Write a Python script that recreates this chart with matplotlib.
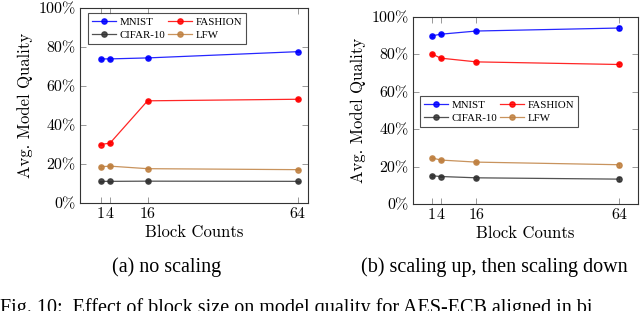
import matplotlib
matplotlib.use("Agg")
import matplotlib.pyplot as plt
from matplotlib.lines import Line2D
from matplotlib.ticker import FuncFormatter

# block counts on the x axis
blocks = [1, 4, 16, 64]
block_labels = ["1", "4", "16", "64"]

# (a) no scaling
a_mnist = [73.9, 73.9, 74.4, 77.6]
a_fashion = [30.0, 30.7, 52.4, 53.2]
a_cifar = [11.1, 11.1, 11.2, 11.1]
a_lfw = [18.6, 18.9, 17.6, 17.1]

# (b) scaling up, then scaling down
b_mnist = [89.9, 90.8, 92.5, 94.1]
b_fashion = [80.3, 78.0, 76.0, 74.6]
b_cifar = [15.1, 14.7, 14.0, 13.3]
b_lfw = [24.7, 23.5, 22.4, 21.0]

# small error bars
a_err = [0.4, 0.4, 0.4, 0.4]
b_err = [0.4, 0.4, 0.5, 1.0]

names = ["MNIST", "FASHION", "CIFAR-10", "LFW"]
colors = ["#0000ff", "#ff0000", "#333333", "#bf8040"]

plt.rcParams["font.family"] = ["cmr10", "DejaVu Serif"]
plt.rcParams["axes.formatter.use_mathtext"] = True

fig = plt.figure(figsize=(6.4, 3.11), dpi=100)
ax1 = fig.add_axes([80 / 640, 1 - 203 / 311, 228 / 640, 195 / 311])
ax2 = fig.add_axes([413 / 640, 1 - 204 / 311, 225 / 640, 187 / 311])


def draw(ax, series, errs, xlim, legend_kw):
    handles = {}
    for name, vals, c in zip(names, series, colors):
        ax.errorbar(blocks, vals, yerr=errs, color=c, lw=0.9, marker="o",
                    ms=3.8, mec=c, mfc=c, elinewidth=0.9, capsize=1.5,
                    alpha=0.85)
        handles[name] = Line2D([], [], color=c, lw=0.9, marker="o", ms=3.8,
                               alpha=0.85)
    ax.set_xlim(*xlim)
    ax.set_ylim(0, 100)
    ax.set_xticks(blocks)
    ax.set_xticklabels(block_labels)
    ax.set_yticks([0, 20, 40, 60, 80, 100])
    ax.yaxis.set_major_formatter(FuncFormatter(lambda v, p: "%d%%" % v))
    ax.tick_params(direction="in", top=True, right=True, length=4,
                   width=0.6, color="#888888", labelsize=11.5, pad=3)
    for s in ax.spines.values():
        s.set_linewidth(0.8)
        s.set_color("#333333")
    ax.set_xlabel("Block Counts", fontsize=12, labelpad=3)
    ax.set_ylabel("Avg. Model Quality", fontsize=12, labelpad=4)
    # column-wise fill gives rows: MNIST FASHION / CIFAR-10 LFW
    order = ["MNIST", "CIFAR-10", "FASHION", "LFW"]
    leg = ax.legend([handles[n] for n in order], order, ncol=2,
                    frameon=True, fancybox=False, edgecolor="#222222",
                    handlelength=2.2, columnspacing=0.3, handletextpad=0.3,
                    borderpad=0.4, labelspacing=0.3, borderaxespad=0,
                    prop={"family": "Liberation Serif", "size": 7.8},
                    **legend_kw)
    leg.get_frame().set_linewidth(0.8)


draw(ax1, [a_mnist, a_fashion, a_cifar, a_lfw], a_err, (-5.6, 67.3),
     dict(loc="upper left", bbox_to_anchor=(0.035, 0.975)))
draw(ax2, [b_mnist, b_fashion, b_cifar, b_lfw], b_err, (-5.3, 70.3),
     dict(loc="center left", bbox_to_anchor=(0.03, 0.495)))

fig.text(167 / 640, 1 - 267 / 311, "(a) no scaling", ha="center", va="center",
         fontsize=14.5, family="Liberation Serif")
fig.text(494 / 640, 1 - 267 / 311, "(b) scaling up, then scaling down",
         ha="center", va="center", fontsize=14.5, family="Liberation Serif")
fig.text(0.0, 1 - 308 / 311,
         "Fig. 10:  Effect of block size on model quality for AES-ECB aligned in bi",
         ha="left", va="center", fontsize=14.5, family="Liberation Serif")

fig.savefig("out.png", dpi=100)
